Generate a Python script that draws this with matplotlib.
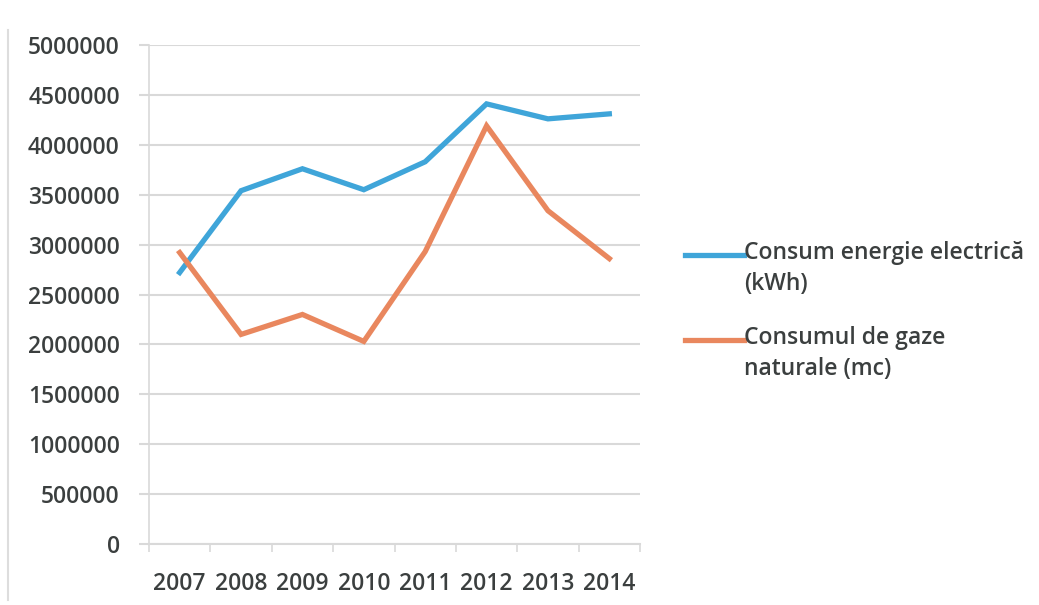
import matplotlib
matplotlib.use("Agg")
import matplotlib.pyplot as plt
from matplotlib.lines import Line2D

years = ["2007", "2008", "2009", "2010", "2011", "2012", "2013", "2014"]
electricity = [2720000, 3540000, 3760000, 3550000, 3830000, 4410000, 4260000, 4310000]
gas = [2920000, 2100000, 2300000, 2030000, 2930000, 4190000, 3340000, 2860000]
series_labels = ["Consum energie electrică\n(kWh)", "Consumul de gaze\nnaturale (mc)"]
colors = ["#3FA5D9", "#E9875E"]
yticks = [0, 500000, 1000000, 1500000, 2000000, 2500000, 3000000, 3500000, 4000000, 4500000, 5000000]

plt.rcParams['font.family'] = ['Open Sans', 'DejaVu Sans']
plt.rcParams['font.weight'] = 'semibold'
text_color = "#3B3F3F"
grid_color = "#D9D9D9"
fs = 16.5

W, H = 1039, 605
fig = plt.figure(figsize=(W / 100, H / 100), dpi=100)
ax = fig.add_axes([149 / W, 1 - 544 / H, (640 - 149) / W, (544 - 45) / H])

x = list(range(len(years)))
ax.plot(x, electricity, color=colors[0], lw=3.8, solid_joinstyle='miter', zorder=3)
ax.plot(x, gas, color=colors[1], lw=3.8, solid_joinstyle='miter', zorder=3)

ax.set_xlim(-0.5, len(years) - 0.5)
ax.set_ylim(0, 5000000)
ax.set_yticks(yticks)
ax.set_yticklabels([str(v) for v in yticks])
ax.set_xticks(x)
ax.set_xticklabels(years)
ax.set_xticks([i - 0.5 for i in range(len(years) + 1)], minor=True)

ax.grid(axis='y', color=grid_color, lw=1.5, zorder=0)
for s in ['top', 'right']:
    ax.spines[s].set_visible(False)
ax.spines['left'].set_color(grid_color)
ax.spines['left'].set_linewidth(1.2)
ax.spines['bottom'].set_color(grid_color)
ax.spines['bottom'].set_linewidth(1.5)

ax.tick_params(axis='y', length=7, color=grid_color, width=1.5, labelsize=fs,
               labelcolor=text_color, pad=14)
ax.tick_params(axis='x', which='major', length=0, labelsize=fs, labelcolor=text_color, pad=20)
ax.tick_params(axis='x', which='minor', length=6, color=grid_color, width=1.2)

# page border line at left
fig.add_artist(Line2D([8 / W, 8 / W], [1 - 30 / H, 1 - 600 / H], color="#DDDDDD", lw=1.5))

# legend drawn manually
leg_y = [255, 340]
for lab, col, yy in zip(series_labels, colors, leg_y):
    fy = 1 - yy / H
    fig.add_artist(Line2D([685 / W, 744 / W], [fy, fy], color=col, lw=3.8))
    fig.text(744 / W, fy + 14 / H, lab, color=text_color, fontsize=fs, va='top',
             ha='left', linespacing=1.38, transform=fig.transFigure)

fig.savefig("out.png", dpi=100, facecolor="white")
